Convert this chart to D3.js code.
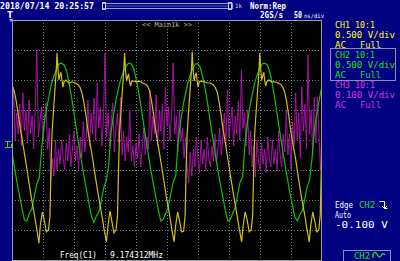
<!DOCTYPE html>
<html><head><meta charset="utf-8">
<script src="https://cdn.jsdelivr.net/npm/d3@7"></script>
<style>html,body{margin:0;padding:0;background:#000080;overflow:hidden}svg{display:block}</style>
</head><body>
<svg id="c" width="400" height="261"></svg>
<script>
// ---------- data ----------
const timeDomain = [-250, 250];               // ns (10 div x 50 ns)
const timeGrid = [-200, -150, -100, -50, 0, 50, 100, 150, 200];
const divGrid = [-3, -2, -1, 0, 1, 2, 3];
const ch1VoltsPerDiv = 0.5, ch2VoltsPerDiv = 0.5, ch3MilliVoltsPerDiv = 100;

// CH1 (yellow): [time ns, volts]
const ch1Points = [
[-257.4,0.95],[-252.5,0.93],[-249.3,0.90],[-246.1,0.80],[-242.9,0.63],[-239.6,0.40],[-236.4,0.18],[-233.2,-0.02],[-228.3,-0.33],[-223.5,-0.65],[-218.7,-0.97],[-213.8,-1.25],[-210.6,-1.45],[-206.6,-1.72],[-204.1,-1.40],[-200.9,-1.20],[-197.7,-1.35],[-194.5,-1.53],[-191.2,-1.50],[-188.8,-1.27],[-187.2,-0.50],[-185.6,0.08],[-183.2,0.47],[-180.8,0.83],[-179.1,1.08],[-178.0,1.30],
[-177.4,1.45],[-175.8,1.18],[-174.2,1.00],[-172.6,1.08],[-170.9,1.13],[-169.3,0.98],[-167.7,0.88],[-166.1,0.97],[-162.9,1.00],[-158.0,0.95],[-153.2,0.97],[-148.4,0.95],[-143.5,0.92],[-140.3,0.88],[-137.1,0.78],[-133.9,0.62],[-130.6,0.40],[-127.4,0.15],[-124.2,-0.05],[-119.3,-0.35],[-114.5,-0.68],[-109.7,-0.98],[-104.8,-1.27],[-101.6,-1.48],[-97.6,-1.70],[-95.1,-1.42],[-91.9,-1.18],[-88.7,-1.37],[-85.5,-1.55],[-82.2,-1.50],[-79.8,-1.25],[-78.2,-0.48],[-76.6,0.10],[-74.2,0.48],[-71.8,0.85],[-70.1,1.10],[-69.0,1.32],
[-68.4,1.45],[-66.8,1.15],[-65.2,0.98],[-63.6,1.05],[-61.9,1.10],[-60.3,0.97],[-58.7,0.90],[-57.1,0.98],[-53.9,0.98],[-49.0,0.97],[-44.2,0.98],[-39.4,0.95],[-34.5,0.93],[-31.3,0.90],[-28.1,0.82],[-24.9,0.65],[-21.6,0.42],[-18.4,0.17],[-15.2,-0.03],[-10.3,-0.33],[-5.5,-0.65],[-0.7,-0.97],[4.2,-1.25],[7.4,-1.47],[11.4,-1.70],[13.9,-1.43],[17.1,-1.20],[20.3,-1.35],[23.5,-1.53],[26.8,-1.52],[29.2,-1.27],[30.8,-0.50],[32.4,0.08],[34.8,0.47],[37.2,0.83],[38.9,1.08],[40.0,1.30],
[40.6,1.47],[42.2,1.17],[43.8,0.98],[45.4,1.07],[47.1,1.12],[48.7,0.98],[50.3,0.88],[51.9,0.97],[55.1,0.98],[60.0,0.97],[64.8,0.95],[69.6,0.95],[74.5,0.92],[77.7,0.88],[80.9,0.80],[84.1,0.63],[87.4,0.40],[90.6,0.17],[93.8,-0.03],[98.7,-0.35],[103.5,-0.67],[108.3,-0.97],[113.2,-1.27],[116.4,-1.47],[120.4,-1.70],[122.9,-1.42],[126.1,-1.20],[129.3,-1.33],[132.5,-1.53],[135.8,-1.50],[138.2,-1.25],[139.8,-0.50],[141.4,0.10],[143.8,0.47],[146.2,0.83],[147.9,1.08],[149.0,1.30],
[149.6,1.45],[151.2,1.17],[152.8,1.00],[154.4,1.07],[156.1,1.13],[157.7,0.98],[159.3,0.90],[160.9,0.97],[164.1,1.00],[169.0,0.97],[173.8,0.97],[178.6,0.95],[183.5,0.93],[186.7,0.88],[189.9,0.80],[193.1,0.63],[196.4,0.40],[199.6,0.15],[202.8,-0.05],[207.7,-0.33],[212.5,-0.67],[217.3,-0.98],[222.2,-1.25],[225.4,-1.47],[229.4,-1.70],[231.9,-1.42],[235.1,-1.20],[238.3,-1.35],[241.5,-1.53],[244.8,-1.50],[247.2,-1.25],[248.8,-0.50],[250.4,0.08]
];

// CH2 (green): volts, sampled every 4 ns from -250 ns
const ch2Start = -250, ch2Step = 4;
const ch2Values = [
-0.20,-0.47,-0.70,-0.92,-1.13,-1.33,-1.35,-1.22,-1.15,-0.93,
-0.73,-0.63,-0.13,0.27,0.53,0.75,0.95,1.08,1.18,1.27,
1.28,1.25,1.15,0.95,0.72,0.45,0.17,-0.10,-0.35,-0.60,
-0.82,-1.05,-1.27,-1.37,-1.27,-1.20,-1.02,-0.80,-0.68,-0.42,
0.15,0.43,0.68,0.87,1.03,1.15,1.23,1.28,1.27,1.20,
1.03,0.82,0.57,0.28,0.02,-0.25,-0.50,-0.73,-0.95,-1.17,
-1.35,-1.32,-1.22,-1.12,-0.90,-0.70,-0.60,-0.03,0.32,0.58,
0.78,0.97,1.10,1.20,1.27,1.27,1.20,1.03,0.83,0.58,
0.28,0.02,-0.25,-0.50,-0.73,-0.95,-1.17,-1.35,-1.33,-1.22,
-1.12,-0.90,-0.70,-0.62,-0.05,0.32,0.58,0.78,0.97,1.10,
1.20,1.27,1.28,1.25,1.13,0.92,0.68,0.40,0.13,-0.13,
-0.40,-0.63,-0.87,-1.07,-1.28,-1.35,-1.25,-1.18,-1.00,-0.78,
-0.67,-0.30,0.20,0.45,0.70,0.90
];

// CH3 (magenta): millivolts, sampled every 2.5 ns from -250 ns
const ch3Start = -250, ch3Step = 2.5;
const ch3Values = [
60,167,0,90,20,120,-20,157,30,100,
-10,133,20,80,-30,110,300,10,60,110,
0,70,123,-30,40,-140,-60,-120,0,-100,
-30,-80,0,-60,-100,-10,-70,20,-90,-30,
30,-70,-20,-100,10,-60,60,-40,20,133,
-20,90,20,140,0,190,40,110,-20,70,
290,10,90,-20,60,123,-40,40,90,-10,
143,-50,30,-70,10,-40,100,-70,-20,-90,
-10,-60,20,-90,-30,40,-50,10,-30,167,
0,80,20,150,-20,100,30,120,-30,177,
50,110,0,90,257,20,80,-40,100,0,
40,-60,10,-90,-143,-40,-120,-30,-90,10,
-70,-110,0,-80,-30,-100,10,-60,-90,-20,
-70,20,-80,-20,40,-50,10,90,-20,167,
10,60,110,-20,80,20,130,0,233,40,
90,-20,100,-50,30,-90,-20,-123,0,-70,
-100,-10,-80,-30,-110,10,-60,-90,0,-80,
-30,-100,30,-50,-90,20,-40,100,-50,20,
-100,60,-20,157,0,90,-60,177,30,120,
-30,283,20,100,-50,143,-10,143,30,-100,60
];

const headerTexts = {date: "2018/07/14 20:25:57", zoom: "1k", mode: "Norm:Rep", rate: "2GS/s", tdivNum: "50", tdivUnit: "ns/div", main: "<< Main1k >>"};
const channelTexts = [
  ["CH1 10:1", "0.500 V/div", "AC", "Full"],
  ["CH2 10:1", "0.500 V/div", "AC", "Full"],
  ["CH3 10:1", "0.100 V/div", "AC", "Full"]
];
const triggerTexts = ["Edge", "CH2", "Auto", "-0.100 V"];
const measureTexts = ["Freq(C1)", "9.174312MHz"];

// ---------- drawing ----------
const svg = d3.select("#c");
const P = {l: 12, t: 20, r: 322, b: 260};
const FONT = "'DejaVu Sans Mono', monospace";

const x = d3.scaleLinear().domain(timeDomain).range([P.l, P.r]);
const yDiv = d3.scaleLinear().domain([-4, 4]).range([P.b, P.t]);
const y1 = d3.scaleLinear().domain([-4 * ch1VoltsPerDiv, 4 * ch1VoltsPerDiv]).range([P.b, P.t]);
const y2 = d3.scaleLinear().domain([-4 * ch2VoltsPerDiv, 4 * ch2VoltsPerDiv]).range([P.b, P.t]);
const y3 = d3.scaleLinear().domain([-4 * ch3MilliVoltsPerDiv, 4 * ch3MilliVoltsPerDiv]).range([P.b, P.t]);

svg.append("rect").attr("width", 400).attr("height", 261).attr("fill", "#000080");
svg.append("rect").attr("x", P.l).attr("y", P.t).attr("width", P.r - P.l).attr("height", P.b - P.t).attr("fill", "#000");

// grid
const gx = svg.append("g").attr("transform", `translate(0,${P.t})`)
  .call(d3.axisBottom(x).tickValues(timeGrid).tickSize(P.b - P.t).tickFormat(""));
const gy = svg.append("g").attr("transform", `translate(${P.l},0)`)
  .call(d3.axisRight(yDiv).tickValues(divGrid).tickSize(P.r - P.l).tickFormat(""));
[gx, gy].forEach(g => {
  g.select(".domain").remove();
  g.selectAll(".tick line").attr("stroke", "#808080").attr("stroke-width", 1)
    .attr("stroke-dasharray", "1,2").attr("shape-rendering", "crispEdges");
});

// border
svg.append("rect").attr("x", P.l + 0.5).attr("y", P.t + 0.5).attr("width", P.r - P.l - 1).attr("height", P.b - P.t)
  .attr("fill", "none").attr("stroke", "#9a9aa8").attr("stroke-width", 1);

// clip
svg.append("clipPath").attr("id", "pc").append("rect")
  .attr("x", P.l + 1).attr("y", P.t + 1).attr("width", P.r - P.l - 2).attr("height", P.b - P.t - 2);
const traces = svg.append("g").attr("clip-path", "url(#pc)");

const line3 = d3.line().x((d, i) => x(ch3Start + i * ch3Step)).y(d => y3(d));
const line2 = d3.line().x((d, i) => x(ch2Start + i * ch2Step)).y(d => y2(d));
const line1 = d3.line().x(d => x(d[0])).y(d => y1(d[1]));

traces.append("path").datum(ch3Values).attr("d", line3).attr("fill", "none").attr("stroke", "#b414b4").attr("stroke-width", 0.9);
traces.append("path").datum(ch2Values).attr("d", line2).attr("fill", "none").attr("stroke", "#10c010").attr("stroke-width", 1.2);
traces.append("path").datum(ch1Points).attr("d", line1).attr("fill", "none").attr("stroke", "#cfc01c").attr("stroke-width", 1.2);

function txt(px, py, s, fill, size, len) {
  const t = svg.append("text").attr("x", px).attr("y", py).text(s)
    .attr("fill", fill).attr("font-family", FONT).attr("font-size", size)
    .attr("xml:space", "preserve");
  if (len) t.attr("textLength", len).attr("lengthAdjust", "spacingAndGlyphs");
  return t;
}

// header
txt(0, 9, headerTexts.date, "#fff", 9, 94).attr("font-weight", "bold");
svg.append("rect").attr("x", 102.5).attr("y", 3.5).attr("width", 130).attr("height", 5).attr("fill", "none").attr("stroke", "#9aa0c8");
svg.append("line").attr("x1", 106).attr("x2", 229).attr("y1", 6).attr("y2", 6).attr("stroke", "#5a60a8");
svg.append("rect").attr("x", 102.5).attr("y", 2.5).attr("width", 3).attr("height", 7).attr("fill", "none").attr("stroke", "#c8c8e0");
svg.append("rect").attr("x", 228.5).attr("y", 2.5).attr("width", 3).attr("height", 7).attr("fill", "none").attr("stroke", "#c8c8e0");
txt(235, 8, headerTexts.zoom, "#d0d0e0", 6, 7);
txt(250, 9, headerTexts.mode, "#fff", 9, 36).attr("font-weight", "bold");
txt(260, 18, headerTexts.rate, "#fff", 9, 23).attr("font-weight", "bold");
txt(294, 18, headerTexts.tdivNum, "#fff", 9, 8).attr("font-weight", "bold");
txt(304, 18, headerTexts.tdivUnit, "#fff", 6, 20);
txt(142, 27, headerTexts.main, "#b0b0b0", 7, 50);
// trigger position marker
txt(7, 18, "T", "#fff", 8, 6).attr("font-weight", "bold");
svg.append("path").attr("d", "M9,19 L13,19 L11,22 Z").attr("fill", "#a0c0ff");

// channel panel
const chColors = ["#ffff20", "#20e020", "#e030e0"];
const chTop = [28, 58, 88];
channelTexts.forEach((c, i) => {
  txt(335, chTop[i], c[0], chColors[i], 9, 40);
  txt(335, chTop[i] + 10, c[1], chColors[i], 9, 60);
  txt(335, chTop[i] + 20, c[2], chColors[i], 9, 11);
  txt(360, chTop[i] + 20, c[3], chColors[i], 9, 21);
});
svg.append("rect").attr("x", 330.5).attr("y", 48.5).attr("width", 65).attr("height", 32)
  .attr("fill", "none").attr("stroke", "#8c8cb4");

// trigger panel
txt(335, 208, triggerTexts[0], "#fff", 9, 18);
txt(359, 208, triggerTexts[1], "#20e020", 9, 16);
svg.append("path").attr("d", "M379.5,201.5 H384.5 V208.5 H387.5 M382,206 L384.5,208.5 L387,206")
  .attr("fill", "none").attr("stroke", "#fff").attr("stroke-width", 1);
txt(335, 218, triggerTexts[2], "#fff", 9, 16);
txt(335, 228, triggerTexts[3], "#fff", 9, 53);

// bottom source box
svg.append("rect").attr("x", 343.5).attr("y", 250.5).attr("width", 47).attr("height", 12)
  .attr("fill", "none").attr("stroke", "#8c8cb4");
txt(354, 259, triggerTexts[1], "#20e020", 9, 16);
svg.append("path").attr("d", "M373,258 V254 Q375,251 377,254 Q379,259 381,256 Q383,252 385,255")
  .attr("fill", "none").attr("stroke", "#20e020").attr("stroke-width", 1.3);

// measurement
txt(60, 258, measureTexts[0], "#fff", 9, 37);
txt(110, 258, measureTexts[1], "#fff", 9, 53);

// CH2 ground marker
svg.append("path").attr("d", "M5,141.5 H11 M7.5,141 V147 M5,147.5 H12 M11.5,144 V147")
  .attr("fill", "none").attr("stroke", "#20e020").attr("stroke-width", 1);
</script>
</body></html>
